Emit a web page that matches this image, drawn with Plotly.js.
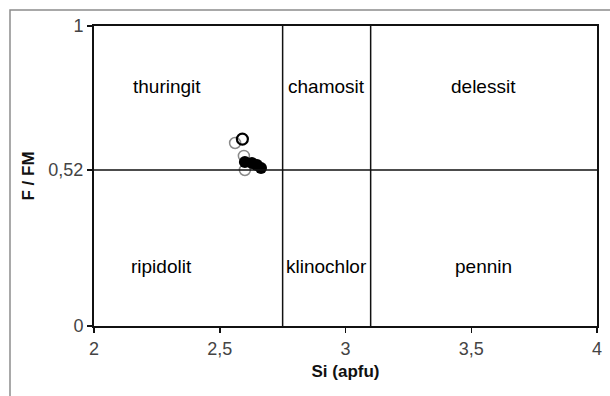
<!DOCTYPE html>
<html>
<head>
<meta charset="utf-8">
<script src="https://cdn.plot.ly/plotly-3.0.1.min.js"></script>
<style>html,body{margin:0;padding:0;background:#fff;}#chart{width:610px;height:396px;}</style>
</head>
<body>
<div id="chart"></div>
<script>
// Data
var openGraySi = [2.561, 2.596, 2.600];
var openGrayF = [0.610, 0.567, 0.520];
var openBlackSi = [2.590];
var openBlackF = [0.623];
var filledSi = [2.600, 2.628, 2.648, 2.664];
var filledF = [0.547, 0.543, 0.537, 0.527];
var siBoundaries = [2.75, 3.1];
var fBoundary = 0.52;
var xTickVals = [2, 2.5, 3, 3.5, 4];
var xTickText = ['2', '2,5', '3', '3,5', '4'];
var yTickVals = [0, 0.52, 1];
var yTickText = ['0', '0,52', '1'];
var fieldNames = ['thuringit', 'chamosit', 'delessit', 'ripidolit', 'klinochlor', 'pennin'];
var fieldSi = [2.29, 2.925, 3.55, 2.27, 2.925, 3.55];
var fieldF = [0.8, 0.8, 0.8, 0.2, 0.2, 0.2];

var FONT = '"Liberation Sans", Arial, sans-serif';

var traces = [
  {x: openGraySi, y: openGrayF, mode: 'markers', type: 'scatter',
   marker: {symbol: 'circle-open', size: 11, color: '#8a8a8a', line: {width: 1.5}}},
  {x: openBlackSi, y: openBlackF, mode: 'markers', type: 'scatter',
   marker: {symbol: 'circle-open', size: 11, color: '#000', line: {width: 2.2}}},
  {x: filledSi, y: filledF, mode: 'markers', type: 'scatter',
   marker: {symbol: 'circle', size: 12, color: '#000'}}
];

var shapes = [];
siBoundaries.forEach(function (s) {
  shapes.push({type: 'line', xref: 'x', yref: 'y', x0: s, x1: s, y0: 0, y1: 1,
               line: {color: '#111', width: 1.5}});
});
shapes.push({type: 'line', xref: 'x', yref: 'y', x0: 2, x1: 4, y0: fBoundary, y1: fBoundary,
             line: {color: '#111', width: 1.5}});
// outer chart-area frame
shapes.push({type: 'rect', xref: 'paper', yref: 'paper', x0: -0.167, x1: 1.2, y0: -0.5, y1: 1.053,
             line: {color: '#8c8c8c', width: 1.5}, layer: 'below'});

var annotations = fieldNames.map(function (n, i) {
  return {x: fieldSi[i], y: fieldF[i], xref: 'x', yref: 'y', text: n, showarrow: false,
          font: {family: FONT, size: 19, color: '#000'}};
});

var layout = {
  width: 610, height: 396,
  margin: {l: 94, r: 13, t: 26, b: 70},
  paper_bgcolor: '#fff', plot_bgcolor: '#fff',
  showlegend: false,
  separators: ', ',
  xaxis: {
    range: [2, 4], tickvals: xTickVals, ticktext: xTickText,
    showgrid: false, zeroline: false,
    showline: true, mirror: true, linecolor: '#111', linewidth: 2,
    ticks: 'outside', ticklen: 5, tickwidth: 1.5, tickcolor: '#111',
    tickfont: {family: FONT, size: 18, color: '#444'},
    title: {text: '<b>Si (apfu)</b>', font: {family: FONT, size: 17, color: '#111'}, standoff: 8}
  },
  yaxis: {
    range: [0, 1], tickvals: yTickVals, ticktext: yTickText,
    showgrid: false, zeroline: false,
    showline: true, mirror: true, linecolor: '#111', linewidth: 2,
    ticks: 'outside', ticklen: 5, tickwidth: 1.5, tickcolor: '#111',
    tickfont: {family: FONT, size: 18, color: '#444'},
    title: {text: '<b>F / FM</b>', font: {family: FONT, size: 17, color: '#111'}, standoff: 9}
  },
  shapes: shapes,
  annotations: annotations
};

Plotly.newPlot('chart', traces, layout, {displayModeBar: false, staticPlot: true});
</script>
</body>
</html>
